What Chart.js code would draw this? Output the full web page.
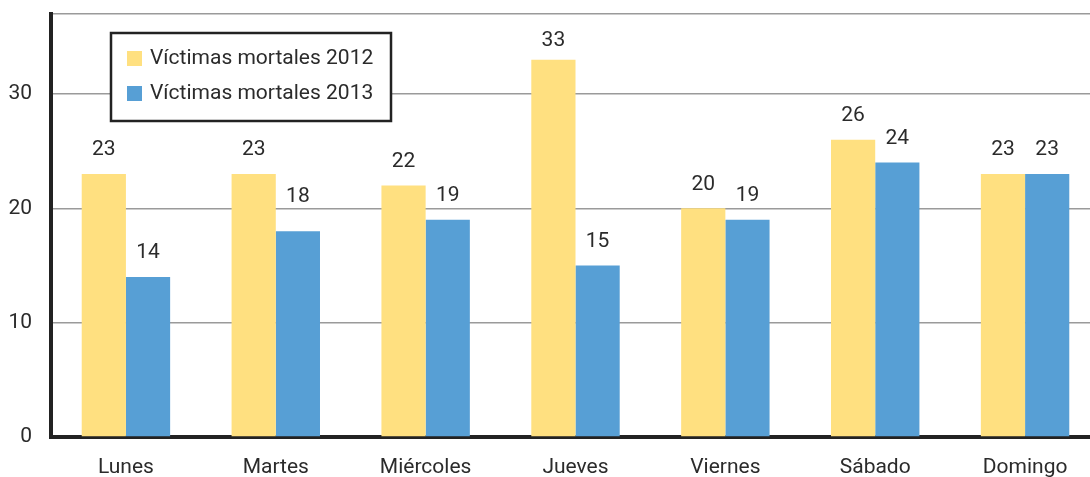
<!DOCTYPE html>
<html>
<head>
<meta charset="utf-8">
<script src="https://cdn.jsdelivr.net/npm/chart.js@4/dist/chart.umd.min.js"></script>
<style>
  html, body { margin: 0; padding: 0; background: #fff; overflow: hidden; }
  #wrap { width: 1090px; height: 477px; overflow: hidden; position: relative; }
  canvas { display: block; }
</style>
</head>
<body>
<div id="wrap"><canvas id="c" width="1100" height="477"></canvas></div>
<script>
const categories = ['Lunes', 'Martes', 'Miércoles', 'Jueves', 'Viernes', 'Sábado', 'Domingo'];
const victimas2012 = [23, 23, 22, 33, 20, 26, 23];
const victimas2013 = [14, 18, 19, 15, 19, 24, 23];
const seriesLabels = ['Víctimas mortales 2012', 'Víctimas mortales 2013'];
const yTicks = [0, 10, 20, 30];

const FONT = 'Roboto, "DejaVu Sans", sans-serif';
const TEXT = '#2b2b2b';
const YELLOW = '#FFE080';
const BLUE = '#579FD5';

const valueLabels = {
  id: 'valueLabels',
  afterDatasetsDraw(chart) {
    const ctx = chart.ctx;
    const top = chart.chartArea.top;
    const yScale = chart.scales.y;
    const gridYs = yTicks.map(v => yScale.getPixelForValue(v));
    ctx.save();
    ctx.font = '21px ' + FONT;
    ctx.fillStyle = TEXT;
    ctx.textAlign = 'center';
    ctx.textBaseline = 'middle';
    chart.data.datasets.forEach((ds, i) => {
      const meta = chart.getDatasetMeta(i);
      meta.data.forEach((bar, j) => {
        let y = bar.y - 24;
        // keep labels off the gridlines
        gridYs.forEach(gy => { if (Math.abs(y - gy) < 10) y = gy - 12; });
        y = Math.max(y, top + 27);
        ctx.fillText(String(ds.data[j]), bar.x, y);
      });
    });
    ctx.restore();
  }
};

const boxLegend = {
  id: 'boxLegend',
  afterDraw(chart) {
    const ctx = chart.ctx;
    const x0 = 111, y0 = 33, w = 280, h = 88;
    ctx.save();
    ctx.fillStyle = '#fff';
    ctx.fillRect(x0, y0, w, h);
    ctx.strokeStyle = '#222';
    ctx.lineWidth = 2.5;
    ctx.strokeRect(x0, y0, w, h);
    ctx.font = '21px ' + FONT;
    ctx.textAlign = 'left';
    ctx.textBaseline = 'middle';
    chart.data.datasets.forEach((ds, i) => {
      const cy = 59 + i * 35;
      ctx.fillStyle = ds.backgroundColor;
      ctx.fillRect(127, cy - 8, 15, 15);
      ctx.fillStyle = TEXT;
      ctx.fillText(ds.label, 150, cy);
    });
    ctx.restore();
  }
};

new Chart(document.getElementById('c'), {
  type: 'bar',
  data: {
    labels: categories,
    datasets: [
      { label: seriesLabels[0], data: victimas2012, backgroundColor: YELLOW, borderWidth: 0 },
      { label: seriesLabels[1], data: victimas2013, backgroundColor: BLUE, borderWidth: 0 }
    ]
  },
  options: {
    responsive: false,
    animation: false,
    devicePixelRatio: 1,
    layout: { padding: { top: 14, right: 0, left: 0, bottom: 0 } },
    plugins: { legend: { display: false }, tooltip: { enabled: false } },
    datasets: { bar: { barPercentage: 1, categoryPercentage: 0.59 } },
    scales: {
      x: {
        grid: { color: 'transparent', drawTicks: false },
        border: { color: '#222', width: 4 },
        ticks: { color: TEXT, font: { family: FONT, size: 21 }, padding: 18, maxRotation: 0 },
        afterFit(s) { s.height = 40; s.paddingLeft = 0; s.paddingRight = 0; }
      },
      y: {
        min: 0, max: 37,
        grid: { color: '#9a9a9a', lineWidth: 1.5, drawTicks: false },
        border: { color: '#222', width: 4 },
        ticks: {
          stepSize: 10,
          color: TEXT,
          font: { family: FONT, size: 21 },
          padding: 19,
          callback: (v) => yTicks.includes(v) ? String(v) : ''
        },
        afterFit(s) { s.width = 51; s.paddingTop = 0; s.paddingBottom = 0; }
      }
    }
  },
  plugins: [valueLabels, boxLegend]
});
</script>
</body>
</html>
